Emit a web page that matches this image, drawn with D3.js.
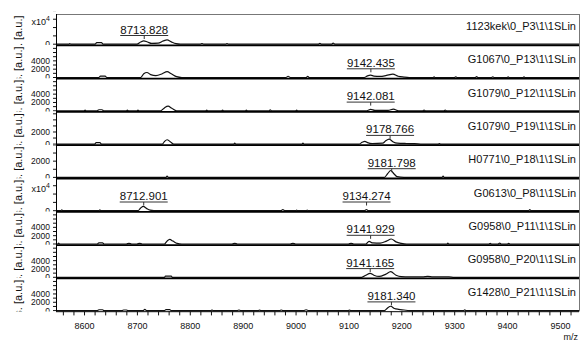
<!DOCTYPE html>
<html>
<head>
<meta charset="utf-8">
<script src="https://cdn.jsdelivr.net/npm/d3@7"></script>
<style>
  body { margin: 0; background: #fff; }
  svg text { font-family: "Liberation Sans", Arial, sans-serif; fill: #111; }
</style>
</head>
<body>
<svg id="chart" width="581" height="342"></svg>
<script>
// ---- data ----
const panelNames = [
  '1123kek\\0_P3\\1\\1SLin',
  'G1067\\0_P13\\1\\1SLin',
  'G1079\\0_P12\\1\\1SLin',
  'G1079\\0_P19\\1\\1SLin',
  'H0771\\0_P18\\1\\1SLin',
  'G0613\\0_P8\\1\\1SLin',
  'G0958\\0_P11\\1\\1SLin',
  'G0958\\0_P20\\1\\1SLin',
  'G1428\\0_P21\\1\\1SLin'
];
// intensity range of each panel (a.u.)
const panelMax = [10000, 8000, 8000, 5500, 4100, 10000, 8000, 8000, 8000];
const panelTickStep = [2500, 1000, 1000, 1000, 1000, 2500, 1000, 1000, 1000];
const panelTickLabels = [[0], [0, 2000, 4000], [0, 2000, 4000], [0, 2000], [0, 2000], [0], [0, 2000, 4000], [0, 2000, 4000], [0, 2000, 4000]];
const panelExp = [true, false, false, false, false, true, false, false, false];
const peakLabels = [[8713.828], [9142.435], [9142.081], [9178.766], [9181.798], [8712.901, 9134.274], [9141.929], [9141.165], [9181.340]];
const mzTicks = d3.range(8560, 9536, 20);

// spectra [m/z, intensity]
const spec1 = [[8547,0],[8571,0],[8573,150],[8576,0],[8621,0],[8624,450],[8633,450],[8636,0],[8700,0],[8707,650],[8713,1000],[8720,650],[8728,250],[8740,300],[8750,1000],[8757,1300],[8765,700],[8774,150],[8782,0],[8820,0],[8823,200],[8826,0],[8868,0],[8870,200],[8873,0],[9043,0],[9046,250],[9049,0],[9068,0],[9071,300],[9075,0],[9536,0]];
const spec2 = [[8547,0],[8628,0],[8631,350],[8640,350],[8643,0],[8707,0],[8713,900],[8719,1200],[8726,700],[8736,450],[8748,900],[8757,1400],[8765,900],[8775,200],[8785,0],[8982,0],[8986,300],[8990,0],[9020,0],[9023,250],[9026,0],[9130,0],[9136,400],[9142,550],[9148,350],[9160,250],[9172,500],[9184,800],[9194,300],[9205,100],[9215,0],[9260,0],[9262,150],[9264,0],[9300,0],[9303,150],[9306,0],[9340,0],[9342,200],[9345,0],[9370,0],[9373,150],[9376,0],[9400,0],[9402,150],[9404,0],[9430,0],[9432,150],[9434,0],[9536,0]];
const spec3 = [[8547,0],[8600,0],[8602,150],[8604,0],[8625,0],[8628,250],[8634,250],[8637,0],[8680,0],[8682,150],[8684,0],[8700,0],[8702,150],[8704,0],[8745,0],[8752,700],[8759,1100],[8766,600],[8775,0],[8830,0],[8832,150],[8834,0],[8860,0],[8862,150],[8864,0],[8905,0],[8907,150],[8909,0],[8950,0],[8952,200],[8955,0],[9000,0],[9002,150],[9004,0],[9135,0],[9142,350],[9150,100],[9175,100],[9185,400],[9195,0],[9240,0],[9243,150],[9246,0],[9280,0],[9283,150],[9286,0],[9536,0]];
const spec4 = [[8547,0],[8620,0],[8623,250],[8630,250],[8633,0],[8748,0],[8752,400],[8757,720],[8763,400],[8770,0],[8883,0],[8885,150],[8887,0],[9012,0],[9014,150],[9016,0],[9120,0],[9126,300],[9131,450],[9136,250],[9145,100],[9165,150],[9170,500],[9177,820],[9184,400],[9192,150],[9210,100],[9225,80],[9240,0],[9270,0],[9272,100],[9274,0],[9536,0]];
const spec5 = [[8547,0],[8755,0],[8757,150],[8760,0],[9168,0],[9174,450],[9180,850],[9186,450],[9192,100],[9205,0],[9277,0],[9279,150],[9281,0],[9536,0]];
const spec6 = [[8547,0],[8556,0],[8558,250],[8560,0],[8628,0],[8630,250],[8632,0],[8702,0],[8707,800],[8712,1300],[8718,700],[8725,150],[8732,0],[8972,0],[8976,300],[8980,0],[9000,0],[9002,150],[9004,0],[9020,0],[9022,150],[9024,0],[9130,0],[9134,300],[9138,0],[9441,0],[9443,300],[9445,0],[9536,0]];
const spec7 = [[8547,0],[8550,0],[8552,200],[8554,0],[8625,0],[8628,250],[8635,250],[8638,0],[8680,0],[8685,150],[8690,0],[8700,0],[8705,150],[8710,0],[8752,0],[8757,700],[8762,1100],[8768,700],[8776,150],[8785,0],[8880,0],[8885,150],[8890,0],[8990,0],[8995,150],[9000,0],[9100,0],[9105,150],[9110,0],[9133,0],[9139,650],[9146,250],[9160,200],[9172,700],[9181,1200],[9190,500],[9200,150],[9210,0],[9286,0],[9288,200],[9290,0],[9365,0],[9368,150],[9371,0],[9383,0],[9386,200],[9389,0],[9400,0],[9403,150],[9406,0],[9536,0]];
const spec8 = [[8547,0],[8752,0],[8754,300],[8765,300],[8767,0],[9125,0],[9133,500],[9141,950],[9148,500],[9158,200],[9170,700],[9180,1350],[9190,500],[9200,150],[9215,100],[9240,100],[9250,200],[9260,100],[9290,100],[9300,0],[9536,0]];
const spec9 = [[8547,0],[8625,0],[8628,200],[8635,200],[8638,0],[8672,0],[8675,150],[8680,150],[8683,0],[8712,0],[8715,300],[8718,0],[8752,0],[8755,250],[8762,250],[8765,0],[8840,0],[8842,150],[8844,0],[8890,0],[8893,150],[8896,0],[8930,0],[8932,150],[8934,0],[8970,0],[8973,150],[8976,0],[9015,0],[9020,200],[9025,0],[9100,0],[9102,150],[9104,0],[9168,0],[9174,650],[9180,1050],[9187,500],[9195,300],[9205,150],[9215,0],[9318,0],[9320,200],[9322,0],[9536,0]];
const spectra = [spec1, spec2, spec3, spec4, spec5, spec6, spec7, spec8, spec9];

// ---- layout ----
const left = 56, right = 579, plotTop = 14;
const firstBase = 45, panelH = 33.3;
const svg = d3.select('#chart');
const defs = svg.append('defs');

const x = d3.scaleLinear().domain([8547, 9536]).range([left, right]);

// plot clip (spectra)
defs.append('clipPath').attr('id', 'plotClip')
  .append('rect').attr('x', left).attr('y', plotTop).attr('width', right - left).attr('height', 320 - plotTop);

const line = d3.line().curve(d3.curveMonotoneX);

panelNames.forEach((name, i) => {
  const base = firstBase + i * panelH;
  const top = base - panelH;
  const y = d3.scaleLinear().domain([0, panelMax[i]]).range([base - 0.8, base - 0.8 - panelH]);
  const g = svg.append('g').attr('class', 'panel');

  // left side clip: labels are cut to the panel rows
  defs.append('clipPath').attr('id', 'lc' + i)
    .append('rect').attr('x', 0).attr('y', Math.max(top, plotTop - 4)).attr('width', left).attr('height', base - Math.max(top, plotTop - 4));
  const lg = g.append('g').attr('clip-path', `url(#lc${i})`);

  // y ticks
  const tv = d3.range(0, panelMax[i] + 1, panelTickStep[i]);
  lg.selectAll('line.yt').data(tv).join('line')
    .attr('x1', left - 3).attr('x2', left)
    .attr('y1', d => y(d)).attr('y2', d => y(d))
    .attr('stroke', '#111').attr('stroke-width', 1);
  lg.selectAll('text.yl').data(panelTickLabels[i]).join('text')
    .attr('x', left - 6).attr('y', d => y(d))
    .attr('dy', '0.35em').attr('text-anchor', 'end')
    .style('font-size', '8.5px').text(d => d);
  if (panelExp[i]) {
    const t = lg.append('text').attr('x', left - 6).attr('y', top + 13.5)
      .attr('text-anchor', 'end').style('font-size', '9px');
    t.append('tspan').text('x10');
    t.append('tspan').attr('dy', -4).style('font-size', '7px').text('4');
  }
  // rotated axis title, cut to the panel height
  lg.append('text')
    .attr('transform', `translate(22,${Math.max(top, plotTop) + 1.5}) rotate(-90)`)
    .attr('text-anchor', 'end').style('font-size', '11px')
    .text('Intens. [a.u.]');

  // spectrum
  g.append('path')
    .attr('clip-path', 'url(#plotClip)')
    .attr('d', line(spectra[i].map(d => [x(d[0]), y(d[1])])))
    .attr('fill', 'none').attr('stroke', '#111').attr('stroke-width', 1.2);

  // panel separator (baseline)
  g.append('line').attr('x1', left).attr('x2', right)
    .attr('y1', base + 0.3).attr('y2', base + 0.3)
    .attr('stroke', '#000').attr('stroke-width', i === panelNames.length - 1 ? 1 : 1.8);

  // spectrum name
  g.append('text').attr('x', right - 3).attr('y', base - 15)
    .attr('text-anchor', 'end').style('font-size', '11px').text(name);

  // peak labels
  const by = base - 9.5;
  const pl = g.selectAll('g.peak').data(peakLabels[i]).join('g').attr('class', 'peak');
  pl.append('text').attr('x', d => x(d)).attr('y', by - 2)
    .attr('text-anchor', 'middle').style('font-size', '11.5px')
    .text(d => d.toFixed(3));
  pl.append('line').attr('x1', d => x(d) - 24).attr('x2', d => x(d) + 24)
    .attr('y1', by).attr('y2', by).attr('stroke', '#333').attr('stroke-width', 1);
  pl.append('line').attr('x1', d => x(d)).attr('x2', d => x(d))
    .attr('y1', by).attr('y2', by + 3.5).attr('stroke', '#333').attr('stroke-width', 1);
});

const bottom = firstBase + (panelNames.length - 1) * panelH;

// frame
svg.append('line').attr('x1', left).attr('x2', right).attr('y1', plotTop + 0.5).attr('y2', plotTop + 0.5)
  .attr('stroke', '#777').attr('stroke-width', 1);
svg.append('line').attr('x1', right + 0.5).attr('x2', right + 0.5).attr('y1', plotTop).attr('y2', bottom)
  .attr('stroke', '#777').attr('stroke-width', 1);
svg.append('line').attr('x1', left + 0.5).attr('x2', left + 0.5).attr('y1', plotTop).attr('y2', bottom)
  .attr('stroke', '#000').attr('stroke-width', 1);

// x axis
const xAxis = svg.append('g').attr('transform', `translate(0,${bottom})`)
  .call(d3.axisBottom(x).tickValues(mzTicks).tickSize(4).tickPadding(7)
    .tickFormat(d => d % 100 === 0 ? d : ''));
xAxis.select('.domain').remove();
xAxis.selectAll('line').attr('stroke', '#111');
xAxis.selectAll('text').style('font-size', '9px').style('font-family', '"Liberation Sans", Arial, sans-serif').attr('fill', '#111');

svg.append('text').attr('x', right - 1).attr('y', 340)
  .attr('text-anchor', 'end').style('font-size', '9px').text('m/z');
</script>
</body>
</html>
